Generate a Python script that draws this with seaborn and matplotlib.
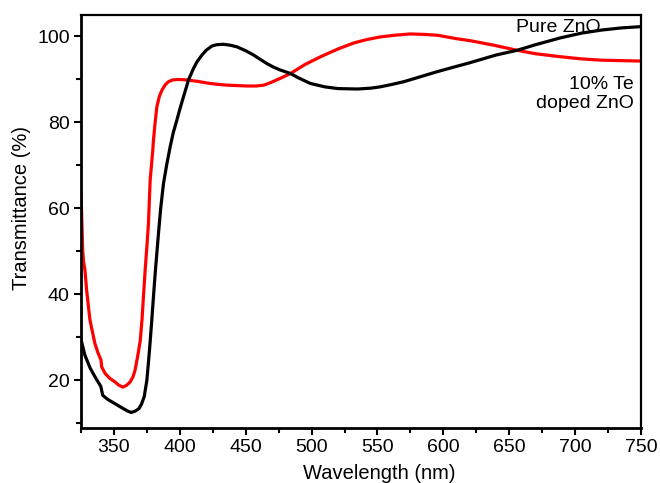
import matplotlib
matplotlib.use("Agg")
import matplotlib.pyplot as plt
from matplotlib.ticker import MultipleLocator
import pandas as pd
import seaborn as sns

# Optical transmittance spectra of ZnO films
pure_wavelength = [325, 328, 332, 336, 340, 341.5, 345, 350, 356, 360, 363, 366,
                   369, 371, 373, 375, 377, 378.5, 380, 381.5, 383.8, 385.5,
                   387.6, 390, 392.7, 395, 397.8, 400, 402.8, 406.6, 410.4, 413,
                   416.8, 420, 424.4, 428, 433, 438, 443.4, 450, 456, 461, 466.2,
                   471, 476.4, 484, 490, 499, 510, 520, 535, 545, 552, 560, 570,
                   582, 595, 608, 620, 640, 656, 670, 689, 705, 720, 735, 750]
pure_transmittance = [29.5, 25.8, 22.8, 20.6, 18.6, 16.5, 15.6, 14.7, 13.6, 12.9,
                      12.5, 12.8, 13.4, 14.5, 16.2, 20.0, 27.0, 33.0, 39.4, 45.6,
                      54.1, 60.0, 65.7, 70.0, 74.3, 77.5, 80.5, 83.0, 85.9, 89.8,
                      92.5, 94.0, 95.6, 96.7, 97.7, 98.0, 98.1, 97.9, 97.5, 96.6,
                      95.6, 94.6, 93.6, 92.8, 92.1, 91.3, 90.3, 89.0, 88.2, 87.8,
                      87.7, 87.9, 88.2, 88.7, 89.4, 90.5, 91.7, 92.8, 93.8, 95.6,
                      96.7, 98.0, 99.6, 100.7, 101.4, 101.9, 102.2]

doped_wavelength = [325, 326.3, 327, 328, 329.3, 331.8, 335.6, 338, 340.2, 340.7,
                    343.3, 347, 350.9, 353.5, 356.7, 359.5, 362.3, 364.5, 366,
                    368, 370, 371.3, 372.4, 373.7, 375, 376.2, 377.5, 379.5, 380,
                    381.3, 382.6, 384.5, 386.4, 389, 391.4, 394.5, 397.8, 401,
                    405.4, 413, 420.6, 428, 435.8, 443, 451, 458, 463.7, 469,
                    476.4, 484, 495, 506.8, 520, 532, 542, 552, 563, 575, 585,
                    595.5, 610, 621, 638, 647, 656, 670, 689, 705, 720, 735, 750]
doped_transmittance = [64.0, 50.2, 47.5, 45.6, 40.9, 34.0, 28.5, 26.3, 24.7, 23.1,
                       21.6, 20.4, 19.6, 18.9, 18.4, 18.8, 19.6, 20.8, 22.3, 25.5,
                       29.3, 34.0, 39.4, 45.6, 51.0, 56.4, 66.5, 73.5, 75.8, 80.0,
                       83.6, 86.0, 87.4, 88.7, 89.4, 89.8, 89.9, 89.9, 89.8, 89.5,
                       89.1, 88.8, 88.6, 88.5, 88.4, 88.4, 88.6, 89.2, 90.2, 91.3,
                       93.4, 95.2, 97.0, 98.4, 99.2, 99.8, 100.2, 100.5, 100.4,
                       100.2, 99.4, 98.9, 97.9, 97.3, 96.7, 95.9, 95.2, 94.7, 94.4,
                       94.3, 94.2]

series_names = ["Pure ZnO", "10% Te doped ZnO"]
series_colors = ["#000000", "#ff0000"]

df = pd.concat([
    pd.DataFrame({"wavelength": pure_wavelength,
                  "transmittance": pure_transmittance,
                  "sample": series_names[0]}),
    pd.DataFrame({"wavelength": doped_wavelength,
                  "transmittance": doped_transmittance,
                  "sample": series_names[1]}),
], ignore_index=True)

sns.set_style("ticks")
plt.rcParams["font.family"] = ["Liberation Sans", "DejaVu Sans"]
plt.rcParams["font.size"] = 14
for key in ["text.color", "axes.labelcolor", "xtick.color", "ytick.color",
            "axes.edgecolor"]:
    plt.rcParams[key] = "black"

fig = plt.figure(figsize=(6.6, 4.83), dpi=100)
ax = fig.add_axes([0.1227, 0.1139, 0.8485, 0.855])

sns.lineplot(data=df, x="wavelength", y="transmittance", hue="sample",
             palette=dict(zip(series_names, series_colors)),
             hue_order=series_names[::-1], sort=False, estimator=None,
             linewidth=2.3, legend=False, ax=ax)

ax.set_xlim(325, 750)
ax.set_ylim(8.9, 104.9)
ax.xaxis.set_major_locator(MultipleLocator(50))
ax.xaxis.set_minor_locator(MultipleLocator(25))
ax.yaxis.set_major_locator(MultipleLocator(20))
ax.yaxis.set_minor_locator(MultipleLocator(10))

ax.tick_params(which="both", direction="out", width=1.5, colors="black",
               labelsize=14, top=False, right=False)
ax.tick_params(which="major", length=5, pad=3)
ax.tick_params(which="minor", length=3.5)

for side in ["left", "bottom"]:
    ax.spines[side].set_linewidth(2.0)
for side in ["top", "right"]:
    ax.spines[side].set_linewidth(1.6)
for sp in ax.spines.values():
    sp.set_color("black")
    sp.set_visible(True)

ax.set_xlabel("Wavelength (nm)", fontsize=14.5)
ax.set_ylabel("Transmittance (%)", fontsize=14.5)
ax.xaxis.set_label_coords(0.532, -0.087)
ax.yaxis.set_label_coords(-0.09, 0.533)

ax.text(655, 101.0, "Pure ZnO", ha="left", va="baseline", fontsize=14)
ax.text(744.5, 87.8, "10% Te", ha="right", va="baseline", fontsize=14)
ax.text(744.5, 83.2, "doped ZnO", ha="right", va="baseline", fontsize=14)

fig.savefig("out.png", dpi=100, facecolor="white")
